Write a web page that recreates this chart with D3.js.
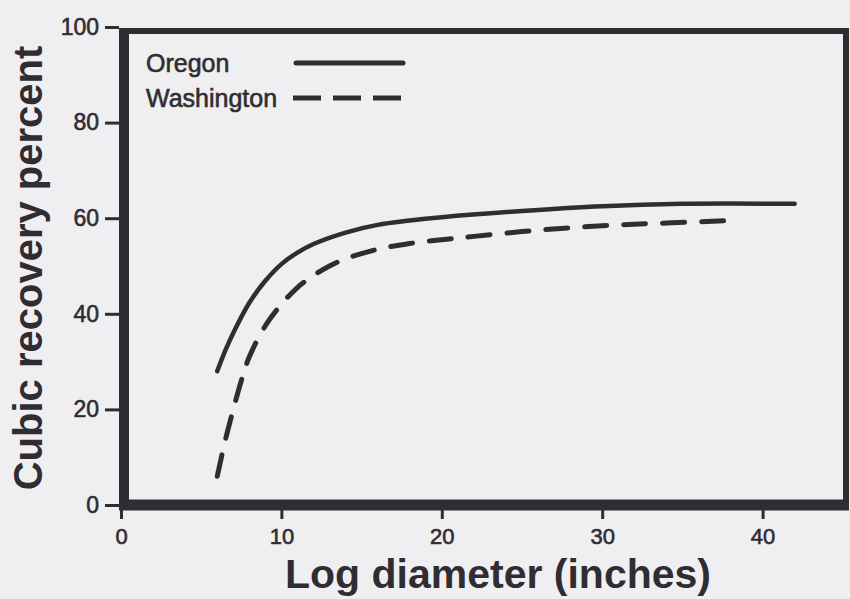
<!DOCTYPE html>
<html>
<head>
<meta charset="utf-8">
<script src="https://cdn.jsdelivr.net/npm/d3@7"></script>
<style>
  html, body { margin: 0; padding: 0; background: #efeff1; }
  svg { display: block; }
  text { font-family: "Liberation Sans", Arial, sans-serif; fill: #2f2d31; }
  .thick { stroke: #2f2d31; stroke-width: 0.6px; }
</style>
</head>
<body>
<svg id="chart"></svg>
<script>
// values
const oregonX = [6, 6.5, 7, 8, 9, 10, 11, 12, 14, 16, 18, 20, 25, 30, 35, 42];
const oregonY = [28, 32.3, 36, 42.3, 46.9, 50.4, 52.8, 54.6, 57, 58.6, 59.5, 60.2, 61.5, 62.5, 63, 63];

const washX = [6, 6.5, 7, 7.5, 8, 9, 10, 11, 12, 13, 14, 16, 18, 20, 22, 25, 28, 31, 34, 38];
const washY = [6, 13.5, 20, 26, 31, 37.5, 42, 45.5, 48, 50, 51.5, 53.5, 54.7, 55.5, 56.2, 57.2, 58, 58.6, 59, 59.5];

const xTicks = [0, 10, 20, 30, 40];
const yTicks = [0, 20, 40, 60, 80, 100];

const seriesNames = ["Oregon", "Washington"];

const width = 850;
const height = 599;
const ink = "#2f2d31";

const svg = d3.select("#chart").attr("width", width).attr("height", height);

const x = d3.scaleLinear().domain([0, 45.2]).range([121, 846]);
const y = d3.scaleLinear().domain([0, 100]).range([505, 27]);

// frame
const frameL = x(0) + 3, frameR = x(45.2), frameT = y(100) + 4, frameB = y(0);
svg.append("line").attr("x1", frameL).attr("x2", frameL).attr("y1", frameT - 3).attr("y2", frameB + 5)
  .attr("stroke", ink).attr("stroke-width", 10);
svg.append("line").attr("x1", frameL - 5).attr("x2", frameR + 3).attr("y1", frameB).attr("y2", frameB)
  .attr("stroke", ink).attr("stroke-width", 11);
svg.append("line").attr("x1", frameL).attr("x2", frameR + 3).attr("y1", frameT).attr("y2", frameT)
  .attr("stroke", ink).attr("stroke-width", 6);
svg.append("line").attr("x1", frameR).attr("x2", frameR).attr("y1", frameT).attr("y2", frameB)
  .attr("stroke", ink).attr("stroke-width", 6);

// y axis ticks
const yAxis = svg.append("g").attr("transform", `translate(${frameL - 5},0)`)
  .call(d3.axisLeft(y).tickValues(yTicks).tickSize(14).tickPadding(6));
yAxis.select(".domain").remove();
yAxis.selectAll(".tick line").attr("stroke", ink).attr("stroke-width", 3);
yAxis.selectAll(".tick text").style("font-size", "23px").attr("fill", ink).attr("class", "thick");

// x axis ticks
const xAxis = svg.append("g").attr("transform", `translate(0,${frameB + 5})`)
  .call(d3.axisBottom(x).tickValues(xTicks).tickSize(9).tickPadding(9));
xAxis.select(".domain").remove();
xAxis.selectAll(".tick line").attr("stroke", ink).attr("stroke-width", 3);
xAxis.selectAll(".tick text").style("font-size", "22px").attr("fill", ink).attr("class", "thick");

// curves
const line = d3.line()
  .x(d => x(d[0]))
  .y(d => y(d[1]))
  .curve(d3.curveCatmullRom.alpha(0.5));

svg.append("path")
  .datum(d3.zip(oregonX, oregonY))
  .attr("d", line)
  .attr("fill", "none")
  .attr("stroke", ink)
  .attr("stroke-width", 4.5)
  .attr("stroke-linecap", "round");

svg.append("path")
  .datum(d3.zip(washX, washY))
  .attr("d", line)
  .attr("fill", "none")
  .attr("stroke", ink)
  .attr("stroke-width", 5)
  .attr("stroke-dasharray", "22,17")
  .attr("stroke-linecap", "round");

// legend
const legend = svg.append("g");
legend.append("text").attr("x", 146).attr("y", 72).attr("class", "thick").style("font-size", "25px").text(seriesNames[0]);
legend.append("text").attr("x", 146).attr("y", 107).attr("class", "thick").style("font-size", "25px").text(seriesNames[1]);
legend.append("line").attr("x1", 296).attr("x2", 403).attr("y1", 63).attr("y2", 63)
  .attr("stroke", ink).attr("stroke-width", 5).attr("stroke-linecap", "round");
legend.append("line").attr("x1", 293).attr("x2", 403).attr("y1", 98).attr("y2", 98)
  .attr("stroke", ink).attr("stroke-width", 5).attr("stroke-dasharray", "28,12");

// axis titles
svg.append("text")
  .attr("x", 498).attr("y", 588)
  .attr("text-anchor", "middle")
  .style("font-size", "41px").style("font-weight", "bold")
  .text("Log diameter (inches)");

svg.append("text")
  .attr("transform", "translate(42,268) rotate(-90)")
  .attr("text-anchor", "middle")
  .style("font-size", "40px").style("font-weight", "bold")
  .text("Cubic recovery percent");
</script>
</body>
</html>
